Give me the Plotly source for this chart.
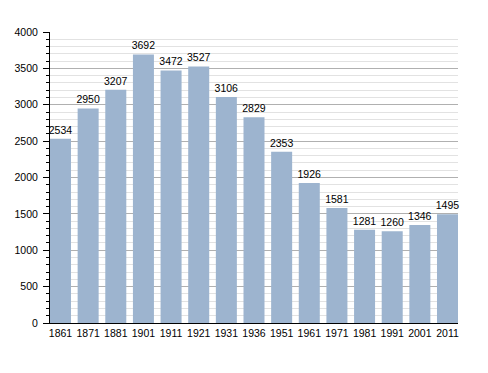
import plotly.graph_objects as go

years = ["1861", "1871", "1881", "1901", "1911", "1921", "1931", "1936",
         "1951", "1961", "1971", "1981", "1991", "2001", "2011"]
population = [2534, 2950, 3207, 3692, 3472, 3527, 3106, 2829,
              2353, 1926, 1581, 1281, 1260, 1346, 1495]

fig = go.Figure(go.Bar(
    x=years, y=population, width=0.76,
    marker=dict(color="#9db4cf", line=dict(width=0)),
    text=[str(v) for v in population], textposition="outside",
    textfont=dict(size=10.5, color="#000"), cliponaxis=False,
    constraintext="none",
))

# page body has an 8px default margin; size figure to fit the 488x373 window
fig.update_layout(
    width=480, height=365,
    margin=dict(l=42, r=30, t=24, b=50, autoexpand=False),
    paper_bgcolor="white", plot_bgcolor="white",
    font=dict(family="Liberation Sans, Arial, sans-serif", size=10.5, color="#000"),
    showlegend=False,
    xaxis=dict(type="category", range=[-0.38, 14.38], showline=True,
               linecolor="#000", linewidth=1, ticks="", showgrid=False,
               automargin=False, tickfont=dict(size=10.5)),
    yaxis=dict(range=[0, 4000], dtick=500, showline=True, linecolor="#000",
               linewidth=1, ticks="outside", ticklen=6, tickcolor="#000",
               showgrid=True, gridcolor="#b0b0b0", gridwidth=1,
               automargin=False, zeroline=False, tickfont=dict(size=10.5),
               ticklabelstandoff=3,
               minor=dict(dtick=100, ticks="outside", ticklen=3,
                          tickcolor="#000", showgrid=True,
                          gridcolor="#e2e2e2", gridwidth=1)),
)

fig.write_html("out.html")
